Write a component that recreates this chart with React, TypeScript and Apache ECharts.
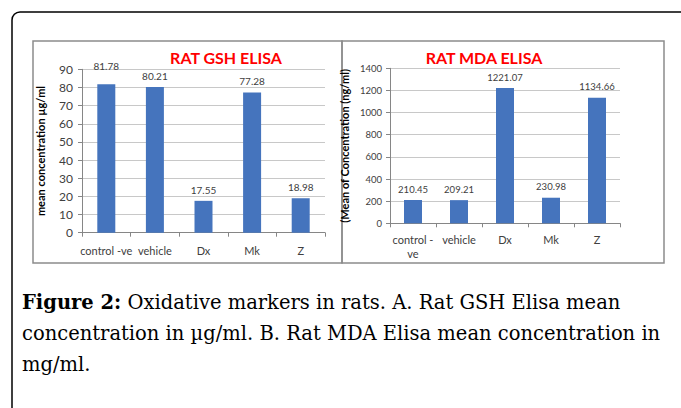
import React, { useEffect, useRef } from "react";
import * as echarts from "echarts";

const gshTitle = "RAT GSH ELISA";
const mdaTitle = "RAT MDA ELISA";
const gshCategories = ["control -ve", "vehicle", "Dx", "Mk", "Z"];
const gshValues = [81.78, 80.21, 17.55, 77.28, 18.98];
const gshAxis = { min: 0, max: 90, interval: 10, name: "mean concentration µg/ml" };
const mdaCategories = ["control -\nve", "vehicle", "Dx", "Mk", "Z"];
const mdaValues = [210.45, 209.21, 1221.07, 230.98, 1134.66];
const mdaAxis = { min: 0, max: 1400, interval: 200, name: "(Mean of Concentration (ng/ml)" };
const captionBold = "Figure 2:";
const captionLines = [
  " Oxidative markers in rats. A. Rat GSH Elisa mean",
  "concentration in µg/ml. B. Rat MDA Elisa mean concentration in",
  "mg/ml.",
];

const FONT = "Lato, 'Open Sans', sans-serif";
const SERIF = "'DejaVu Serif', 'Liberation Serif', serif";
const BAR = "#4574BD";
const AXIS = "#868686";
const GRID = "#c8c8c8";
const TXT = "#404040";

export default function App() {
  const ref = useRef<HTMLDivElement>(null);
  useEffect(() => {
    if (!ref.current) return;
    const chart = echarts.init(ref.current, undefined, { renderer: "svg" });
    const yAxisBase = (a: any, gridIndex: number, gap: number, fs: number, margin: number) => ({
      type: "value",
      gridIndex,
      min: a.min,
      max: a.max,
      interval: a.interval,
      name: a.name,
      nameLocation: "middle",
      nameGap: gap,
      nameTextStyle: { fontFamily: FONT, fontSize: 11, fontWeight: "bold", color: "#000" },
      axisLine: { show: true, lineStyle: { color: AXIS } },
      axisTick: { show: true, length: 4, lineStyle: { color: AXIS } },
      axisLabel: {
        fontFamily: FONT,
        fontSize: fs,
        color: TXT,
        margin,
        formatter: (v: number) => String(v),
      },
      splitLine: { show: true, lineStyle: { color: GRID } },
    });
    const xAxisBase = (cats: string[], gridIndex: number, margin: number) => ({
      type: "category",
      gridIndex,
      data: cats,
      axisLine: { show: true, lineStyle: { color: AXIS } },
      axisTick: { show: true, length: 4, lineStyle: { color: AXIS } },
      axisLabel: {
        interval: 0,
        fontFamily: FONT,
        fontSize: 11,
        color: TXT,
        margin,
        lineHeight: 14,
      },
    });
    const labelStyle = (fs: number) => ({
      show: true,
      position: "top",
      distance: 6,
      fontFamily: FONT,
      fontSize: fs,
      color: TXT,
    });
    const titleStyle = { fontFamily: FONT, fontSize: 16, fontWeight: "bold", color: "#FF0000" };
    chart.setOption({
      animation: false,
      backgroundColor: "#fff",
      title: [
        { text: gshTitle, left: 226, top: 49, padding: 0, textAlign: "center", textStyle: titleStyle },
        { text: mdaTitle, left: 484, top: 49, padding: 0, textAlign: "center", textStyle: titleStyle },
      ],
      grid: [
        { left: 82, top: 69.3, width: 243, height: 163.4 },
        { left: 390, top: 68.3, width: 230, height: 155 },
      ],
      xAxis: [xAxisBase(gshCategories, 0, 11), xAxisBase(mdaCategories, 1, 9)],
      yAxis: [yAxisBase(gshAxis, 0, 36, 12, 9), yAxisBase(mdaAxis, 1, 40, 9.5, 8)],
      series: [
        {
          type: "bar",
          xAxisIndex: 0,
          yAxisIndex: 0,
          barWidth: 18,
          itemStyle: { color: BAR },
          label: labelStyle(10),
          data: gshValues.map((v, i) =>
            i === 0 ? { value: v, label: { distance: 13 } } : v
          ),
        },
        {
          type: "bar",
          xAxisIndex: 1,
          yAxisIndex: 1,
          barWidth: 18,
          itemStyle: { color: BAR },
          label: labelStyle(9.5),
          data: mdaValues,
        },
      ],
      graphic: [
        {
          type: "rect",
          shape: { x: 12, y: 12, width: 720, height: 440, r: 8 },
          style: { fill: "none", stroke: "#000", lineWidth: 1.5 },
          silent: true,
        },
        {
          type: "rect",
          shape: { x: 33, y: 41, width: 309, height: 222 },
          style: { fill: "none", stroke: "#8c8c8c", lineWidth: 1.5 },
          silent: true,
        },
        {
          type: "rect",
          shape: { x: 342, y: 41, width: 322, height: 222 },
          style: { fill: "none", stroke: "#8c8c8c", lineWidth: 1.5 },
          silent: true,
        },
        {
          type: "text",
          x: 22,
          y: 302,
          style: {
            text: "{b|" + captionBold + "}{n|" + captionLines[0] + "}",
            verticalAlign: "middle",
            rich: {
              b: { fontFamily: SERIF, fontSize: 19.5, fontWeight: "bold", fill: "#000" },
              n: { fontFamily: SERIF, fontSize: 19.5, fill: "#000" },
            },
          },
        },
        {
          type: "text",
          x: 22,
          y: 333,
          style: {
            text: captionLines[1],
            fontFamily: SERIF,
            fontSize: 19.5,
            fill: "#000",
            verticalAlign: "middle",
          },
        },
        {
          type: "text",
          x: 22,
          y: 364,
          style: {
            text: captionLines[2],
            fontFamily: SERIF,
            fontSize: 19.5,
            fill: "#000",
            verticalAlign: "middle",
          },
        },
      ],
    });
    return () => chart.dispose();
  }, []);
  return (
    <div
      ref={ref}
      style={{ position: "fixed", left: 0, top: 0, width: 681, height: 408, background: "#fff" }}
    />
  );
}
